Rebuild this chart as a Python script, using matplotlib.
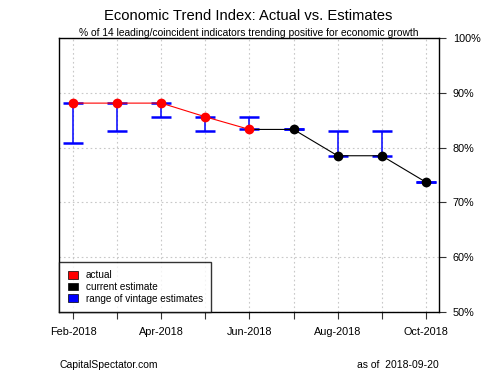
import matplotlib
matplotlib.use("Agg")
import matplotlib.pyplot as plt
from matplotlib.patches import Patch

plt.rcParams['font.family'] = ['Liberation Sans', 'DejaVu Sans']

# data
months = ["Feb-2018", "Mar-2018", "Apr-2018", "May-2018", "Jun-2018",
          "Jul-2018", "Aug-2018", "Sep-2018", "Oct-2018"]
actual = [88.1, 88.1, 88.1, 85.6, 83.3]           # Feb..Jun
current = [83.3, 83.3, 78.5, 78.5, 73.7]          # Jun..Oct
range_low = [80.9, 83.1, 85.5, 83.1, 83.3, 83.3, 78.5, 78.5, 73.7]
range_high = [88.1, 88.1, 88.1, 85.6, 85.6, 83.3, 83.1, 83.1, 73.7]
tick_labels = ["Feb-2018", "", "Apr-2018", "", "Jun-2018", "", "Aug-2018", "", "Oct-2018"]

x = list(range(len(months)))
x_act = x[:len(actual)]
x_cur = x[len(actual) - 1:]

fig = plt.figure(figsize=(5, 3.75), dpi=100)
ax = fig.add_axes([0.118, 0.168, 0.76, 0.731])

ax.grid(True, color="#c8c8c8", linestyle=(0, (1.5, 2.5)), linewidth=0.8)
ax.set_axisbelow(True)

# vintage ranges
mid = [(lo + hi) / 2 for lo, hi in zip(range_low, range_high)]
err = [[m - lo for m, lo in zip(mid, range_low)],
       [hi - m for m, hi in zip(mid, range_high)]]
ax.errorbar(x, mid, yerr=err, fmt="none", ecolor="blue", elinewidth=1.1,
            capsize=7.2, capthick=1.8, zorder=2)

ax.plot(x_cur, current, color="black", linewidth=0.8, zorder=3)
ax.plot(x_cur[1:], current[1:], "o", color="black", markersize=6, zorder=4)
ax.plot(x_act, actual, color="red", linewidth=0.8, zorder=3)
ax.plot(x_act, actual, "o", color="red", markersize=6, zorder=5)

ax.set_xlim(-0.32, 8.3)
ax.set_ylim(50, 100)
ax.set_xticks(x)
ax.set_xticklabels(tick_labels, fontsize=7.8)
ax.set_yticks([50, 60, 70, 80, 90, 100])
ax.set_yticklabels(["50%", "60%", "70%", "80%", "90%", "100%"], fontsize=7.8)
ax.yaxis.tick_right()
ax.tick_params(axis="both", direction="out", length=5, width=0.8, color="#333333")
ax.tick_params(axis="x", pad=5.5)
ax.tick_params(axis="y", pad=5)
for s in ax.spines.values():
    s.set_linewidth(1.0)

handles = [Patch(facecolor="red", edgecolor="black", linewidth=0.5),
           Patch(facecolor="black", edgecolor="black", linewidth=0.5),
           Patch(facecolor="blue", edgecolor="black", linewidth=0.5)]
leg = ax.legend(handles, ["actual", "current estimate", "range of vintage estimates"],
                loc="lower left", bbox_to_anchor=(0, 0), fontsize=7.2, frameon=True,
                fancybox=False, borderaxespad=0, handlelength=1.0, handleheight=0.8,
                handletextpad=0.8, labelspacing=0.15, borderpad=0.85)
leg.get_frame().set_edgecolor("black")
leg.get_frame().set_linewidth(1.0)

fig.text(0.497, 0.958, "Economic Trend Index: Actual vs. Estimates", ha="center",
         va="center", fontsize=10.6)
fig.text(0.497, 0.912, "% of 14 leading/coincident indicators trending positive for economic growth",
         ha="center", va="center", fontsize=7.4)
fig.text(0.12, 0.027, "CapitalSpectator.com", ha="left", va="center", fontsize=7.5)
fig.text(0.878, 0.027, "as of  2018-09-20", ha="right", va="center", fontsize=7.5)

plt.savefig("out.png", dpi=100)
